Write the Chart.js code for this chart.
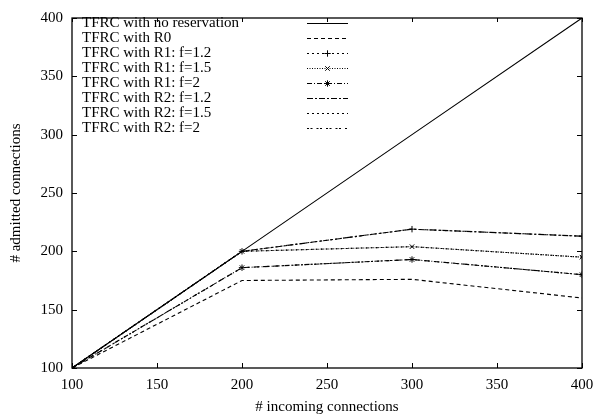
<!DOCTYPE html>
<html>
<head>
<meta charset="utf-8">
<script src="https://cdn.jsdelivr.net/npm/chart.js@4"></script>
<style>
html,body{margin:0;padding:0;background:#fff;}
#wrap{width:607px;height:418px;position:relative;}
</style>
</head>
<body>
<div id="wrap"><canvas id="c" width="607" height="418"></canvas></div>
<script>
// ---- data ----
const incoming = [100, 200, 300, 400];
const noReservation = [100, 200, 300, 400];
const r0 = [100, 175, 176, 160];
const r1f12 = [100, 200, 219, 213];
const r1f15 = [100, 200, 204, 195];
const r1f2 = [100, 186, 193, 180];
const r2f12 = [100, 200, 219, 213];
const r2f15 = [100, 200, 204, 195];
const r2f2 = [100, 186, 193, 180];
const seriesLabels = [
  'TFRC with no reservation',
  'TFRC with R0',
  'TFRC with R1: f=1.2',
  'TFRC with R1: f=1.5',
  'TFRC with R1: f=2',
  'TFRC with R2: f=1.2',
  'TFRC with R2: f=1.5',
  'TFRC with R2: f=2'
];
const xTicks = [100, 150, 200, 250, 300, 350, 400];
const yTicks = [100, 150, 200, 250, 300, 350, 400];
const xTitle = '# incoming connections';
const yTitle = '# admitted connections';

const FONT = '"Liberation Serif", "Times New Roman", serif';
const seriesValues = [noReservation, r0, r1f12, r1f15, r1f2, r2f12, r2f15, r2f2];
const styles = [
  {dash: [], point: false},
  {dash: [4, 3], point: false},
  {dash: [2, 3], point: 'cross'},
  {dash: [1, 1.5], point: 'crossRot'},
  {dash: [5, 2, 1, 2], point: 'star'},
  {dash: [6, 2, 2, 2], point: false},
  {dash: [2, 3], point: false},
  {dash: [2, 1.5, 2, 4], point: false}
];

const datasets = seriesValues.map((vals, i) => ({
  label: seriesLabels[i],
  data: incoming.map((x, j) => ({x: x, y: vals[j]})),
  borderColor: '#000',
  backgroundColor: '#000',
  borderWidth: 1.1,
  borderDash: styles[i].dash,
  pointStyle: styles[i].point || 'circle',
  pointRadius: styles[i].point ? 3.2 : 0,
  pointBorderWidth: 1,
  pointBorderColor: '#000',
  pointBackgroundColor: '#000',
  fill: false,
  tension: 0
}));

const frame = {
  id: 'frame',
  afterDraw(chart) {
    const ctx = chart.ctx;
    const a = chart.chartArea;
    const xs = chart.scales.x, ys = chart.scales.y;
    ctx.save();
    ctx.strokeStyle = '#000';
    ctx.lineWidth = 1.3;
    ctx.setLineDash([]);
    ctx.strokeRect(a.left, a.top, a.right - a.left, a.bottom - a.top);
    ctx.lineWidth = 1;
    const tl = 4;
    ctx.beginPath();
    xTicks.forEach(v => {
      const px = Math.round(xs.getPixelForValue(v)) + 0.5;
      ctx.moveTo(px, a.bottom); ctx.lineTo(px, a.bottom - tl - 1);
      ctx.moveTo(px, a.top); ctx.lineTo(px, a.top + tl);
    });
    yTicks.forEach(v => {
      const py = Math.round(ys.getPixelForValue(v)) + 0.5;
      ctx.moveTo(a.left, py); ctx.lineTo(a.left + tl + 1, py);
      ctx.moveTo(a.right, py); ctx.lineTo(a.right - tl - 1, py);
    });
    ctx.stroke();

    // legend (gnuplot style: text left, sample right)
    ctx.font = '15px ' + FONT;
    ctx.fillStyle = '#000';
    ctx.textBaseline = 'middle';
    ctx.textAlign = 'left';
    chart.data.datasets.forEach((ds, i) => {
      const y = 23 + 15 * i;
      ctx.fillText(ds.label, 82, y);
      ctx.beginPath();
      ctx.setLineDash(ds.borderDash || []);
      ctx.lineWidth = 1;
      ctx.moveTo(307, Math.round(y) + 0.5);
      ctx.lineTo(348, Math.round(y) + 0.5);
      ctx.stroke();
      ctx.setLineDash([]);
      if (ds.pointRadius > 0 && Chart.helpers && Chart.helpers.drawPoint) {
        Chart.helpers.drawPoint(ctx, {pointStyle: ds.pointStyle, radius: ds.pointRadius, rotation: 0, borderWidth: 1}, 327.5, Math.round(y) + 0.5);
      }
    });

    // axis titles
    ctx.font = '15px ' + FONT;
    ctx.textAlign = 'center';
    ctx.textBaseline = 'middle';
    ctx.fillText(xTitle, (a.left + a.right) / 2, 407);
    ctx.save();
    ctx.translate(16, (a.top + a.bottom) / 2);
    ctx.rotate(-Math.PI / 2);
    ctx.fillText(yTitle, 0, 0);
    ctx.restore();
    ctx.restore();
  }
};

new Chart(document.getElementById('c'), {
  type: 'line',
  data: {datasets: datasets},
  options: {
    responsive: false,
    animation: false,
    devicePixelRatio: 1,
    layout: {padding: {left: 0, top: 9, right: 25, bottom: 0}},
    plugins: {legend: {display: false}, tooltip: {enabled: false}},
    scales: {
      x: {
        type: 'linear', min: 100, max: 400,
        afterBuildTicks(s) { s.ticks = xTicks.map(v => ({value: v})); },
        afterFit(s) { s.height = 50; },
        grid: {display: false, drawTicks: false},
        border: {display: false},
        ticks: {color: '#000', font: {family: FONT, size: 15}, padding: 8, maxRotation: 0}
      },
      y: {
        type: 'linear', min: 100, max: 400,
        afterBuildTicks(s) { s.ticks = yTicks.map(v => ({value: v})); },
        afterFit(s) { s.width = 72; },
        grid: {display: false, drawTicks: false},
        border: {display: false},
        ticks: {color: '#000', font: {family: FONT, size: 15}, padding: 9}
      }
    }
  },
  plugins: [frame]
});
</script>
</body>
</html>
